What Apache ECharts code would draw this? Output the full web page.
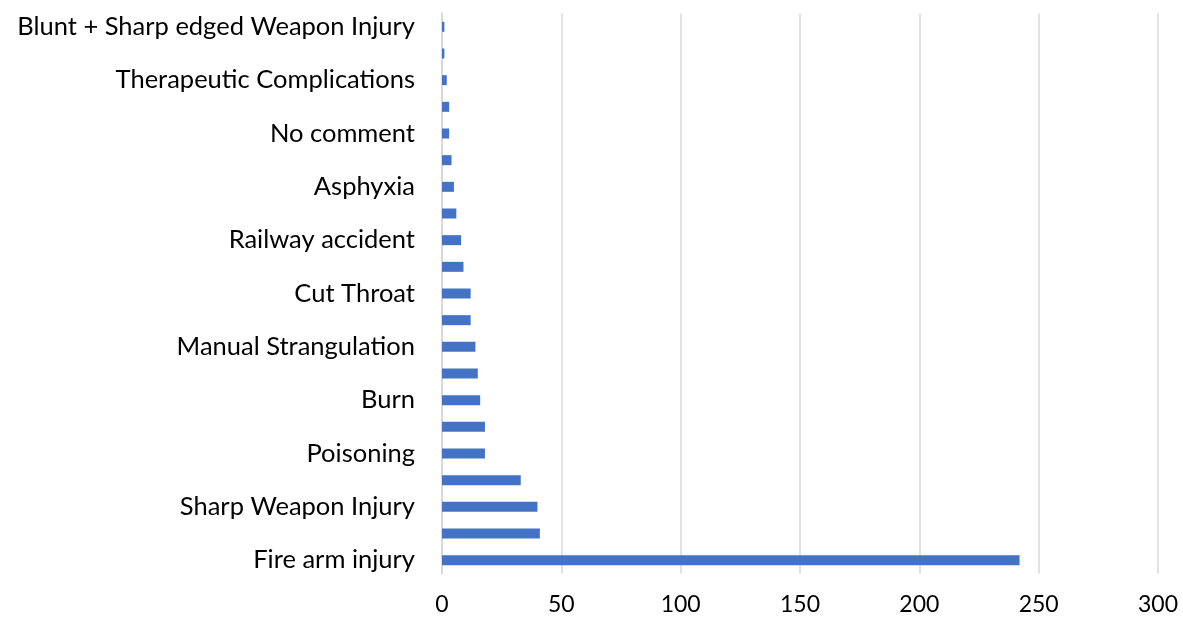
<!DOCTYPE html>
<html>
<head>
<meta charset="utf-8">
<script src="https://cdn.jsdelivr.net/npm/echarts@6/dist/echarts.min.js"></script>
<style>
  html, body { margin: 0; padding: 0; background: #fff; }
</style>
</head>
<body>
<div id="main" style="width: 1183px; height: 621px"></div>
<script>
// bottom to top, as the category axis draws them
const categories = [
  'Fire arm injury', 'Blunt Weapon Injury', 'Sharp Weapon Injury', 'Road Traffic Accident',
  'Poisoning', 'Hanging', 'Burn', 'Fall from Height', 'Manual Strangulation', 'Drowning',
  'Cut Throat', 'Electrocution', 'Railway accident', 'Explosion', 'Asphyxia',
  'Ligature Strangulation', 'No comment', 'Head Injury', 'Therapeutic Complications',
  'Smothering', 'Blunt + Sharp edged Weapon Injury'
];
const values = [242, 41, 40, 33, 18, 18, 16, 15, 14, 12, 12, 9, 8, 6, 5, 4, 3, 3, 2, 1, 1];
const xTicks = { min: 0, max: 300, interval: 50 };

const chart = echarts.init(document.getElementById('main'));
chart.setOption({
  animation: false,
  textStyle: { fontFamily: 'Lato' },
  grid: { left: 442, right: 25, top: 13.5, bottom: 47.5, containLabel: false },
  xAxis: {
    type: 'value',
    min: xTicks.min,
    max: xTicks.max,
    interval: xTicks.interval,
    axisLine: { show: false },
    axisTick: { show: false },
    axisLabel: { color: '#000', fontSize: 23, margin: 20, fontFamily: 'Lato' },
    splitLine: { show: true, lineStyle: { color: '#d9d9d9', width: 1.5 } }
  },
  yAxis: {
    type: 'category',
    data: categories,
    axisLine: { show: true, lineStyle: { color: '#d9d9d9', width: 2 } },
    axisTick: { show: false },
    axisLabel: { color: '#000', fontSize: 25.5, margin: 27, interval: 1, fontFamily: 'Lato' },
    splitLine: { show: false }
  },
  series: [{
    type: 'bar',
    data: values,
    barWidth: 10,
    itemStyle: { color: '#4472C4' }
  }]
});
</script>
</body>
</html>
